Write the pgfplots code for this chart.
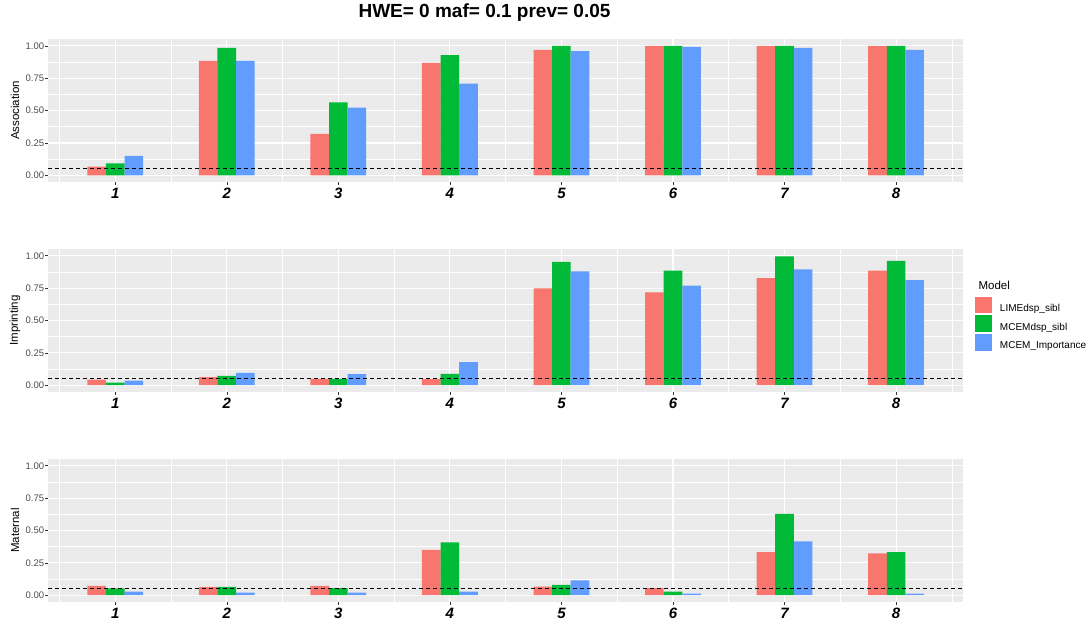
\documentclass[border=0pt]{standalone}
\usepackage{fontspec}
\setmainfont{Liberation Sans}
\usepackage{pgfplots}
\pgfplotsset{compat=1.18}
\usepackage{pgfplotstable}
\definecolor{ggred}{HTML}{F8766D}
\definecolor{gggreen}{HTML}{00BA38}
\definecolor{ggblue}{HTML}{619CFF}
\definecolor{ggbg}{HTML}{EBEBEB}
\definecolor{ggtick}{HTML}{4D4D4D}
\definecolor{ggtickmark}{HTML}{333333}

\pgfplotstableread{
x red green blue
1 0.067 0.093 0.150
2 0.884 0.984 0.884
3 0.320 0.563 0.522
4 0.868 0.928 0.708
5 0.969 1.000 0.959
6 1.000 1.000 0.992
7 1.000 1.000 0.984
8 1.000 1.000 0.969
}\assoc

\pgfplotstableread{
x red green blue
1 0.044 0.020 0.036
2 0.062 0.072 0.096
3 0.049 0.049 0.085
4 0.047 0.088 0.178
5 0.749 0.953 0.879
6 0.718 0.886 0.770
7 0.827 0.995 0.894
8 0.886 0.961 0.811
}\impr

\pgfplotstableread{
x red green blue
1 0.072 0.052 0.028
2 0.065 0.065 0.020
3 0.072 0.054 0.020
4 0.351 0.408 0.028
5 0.067 0.080 0.114
6 0.054 0.028 0.013
7 0.333 0.628 0.416
8 0.323 0.333 0.013
}\mater

\pgfplotstableread{
x y
0.4 0.05
8.6 0.05
}\hline

\pgfplotsset{
  ggpanel/.style={
    scale only axis, width=914.7pt, height=142.4pt,
    xmin=0.4, xmax=8.6, ymin=-0.05, ymax=1.05,
    axis background/.style={fill=ggbg},
    axis line style={draw=none},
    xtick={1,2,3,4,5,6,7,8}, xticklabels={1,2,3,4,5,6,7,8},
    ytick={0,0.25,0.5,0.75,1}, yticklabels={0.00,0.25,0.50,0.75,1.00},
    minor xtick={0.5,1.5,2.5,3.5,4.5,5.5,6.5,7.5,8.5},
    minor ytick={0.125,0.375,0.625,0.875},
    grid=both,
    major grid style={white, line width=1.1pt},
    minor grid style={white, line width=0.55pt},
    tick pos=left,
    tick align=outside, major tick length=3pt, minor tick length=0pt,
    tick style={ggtickmark, line width=0.55pt},
    xticklabel style={font=\fontsize{15}{15}\selectfont\bfseries\itshape, text=black, inner sep=3pt},
    yticklabel style={font=\fontsize{9.5}{9.5}\selectfont, text=ggtick, inner sep=1pt},
    ylabel style={at={(axis description cs:-0.0364,0.5)}, anchor=center, rotate=0, font=\fontsize{11.5}{11.5}\selectfont},
    clip=false,
  },
  redbar/.style={ybar, bar width=0.16667, bar shift=-0.16667, fill=ggred, draw=none},
  greenbar/.style={ybar, bar width=0.16667, bar shift=0, fill=gggreen, draw=none},
  bluebar/.style={ybar, bar width=0.16667, bar shift=0.16667, fill=ggblue, draw=none},
  refline/.style={black, line width=1pt, dash pattern=on 4pt off 3pt, forget plot},
}

\begin{document}
\begin{tikzpicture}
\path[use as bounding box] (0,0) rectangle (1091pt,628pt);

\begin{axis}[ggpanel, at={(48.3pt,446.2pt)}, anchor=south west, ylabel={Association}]
\addplot[redbar] table[x=x,y=red]{\assoc};
\addplot[greenbar] table[x=x,y=green]{\assoc};
\addplot[bluebar] table[x=x,y=blue]{\assoc};
\addplot[refline] table[x=x,y=y]{\hline};
\end{axis}

\begin{axis}[ggpanel, at={(48.3pt,236.3pt)}, anchor=south west, ylabel={Imprinting},
  legend image code/.code={\fill[#1] (0pt,-4.6pt) rectangle (17.3pt,12pt); \path (25pt,0pt);},
  legend cell align=left,
  legend style={draw=none, fill=none, inner sep=0pt, outer sep=0pt,
    at={(axis description cs:1.0131,0.6676)}, anchor=north west,
    row sep=2.2pt, column sep=0pt,
    nodes={inner sep=0pt, font=\fontsize{10}{10}\selectfont, text=black}},
]
\addplot[redbar] table[x=x,y=red]{\impr};
\addlegendentry{LIMEdsp\_sibl}
\addplot[greenbar] table[x=x,y=green]{\impr};
\addlegendentry{MCEMdsp\_sibl}
\addplot[bluebar] table[x=x,y=blue]{\impr};
\addlegendentry{MCEM\_Importance}
\addplot[refline] table[x=x,y=y]{\hline};
\end{axis}

\begin{axis}[ggpanel, at={(48.3pt,26.3pt)}, anchor=south west, ylabel={Maternal}]
\addplot[redbar] table[x=x,y=red]{\mater};
\addplot[greenbar] table[x=x,y=green]{\mater};
\addplot[bluebar] table[x=x,y=blue]{\mater};
\addplot[refline] table[x=x,y=y]{\hline};
\end{axis}

\node[anchor=base west, font=\fontsize{11.5}{11.5}\selectfont] at (975pt,338pt) {Model};
\node[anchor=base, font=\fontsize{19}{19}\selectfont\bfseries] at (484.5pt,610.7pt) {HWE= 0 maf= 0.1 prev= 0.05};
\end{tikzpicture}
\end{document}
